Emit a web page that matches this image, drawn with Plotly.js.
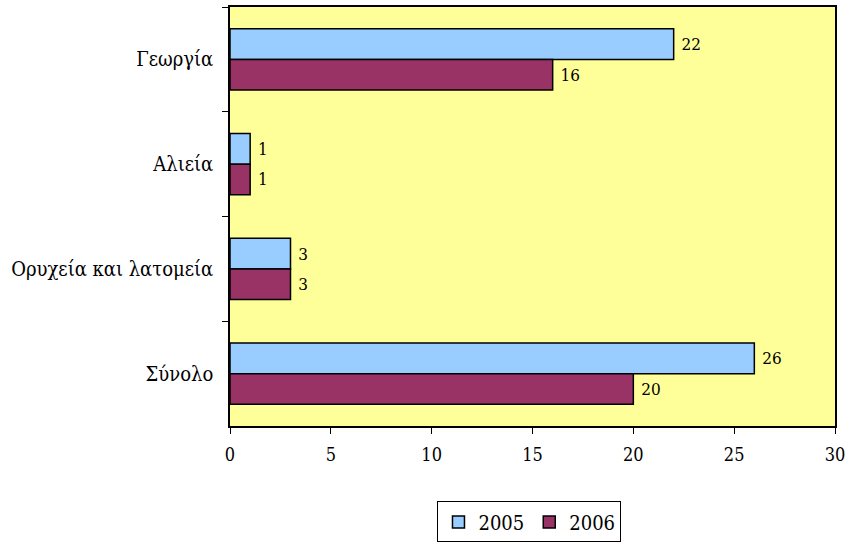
<!DOCTYPE html>
<html><head><meta charset="utf-8">
<script src="https://cdn.plot.ly/plotly-3.0.1.min.js"></script>
<style>body{margin:0;background:#fff}#chart{width:850px;height:550px}</style>
</head><body><div id="chart"></div>
<script>
const categories = ['Γεωργία', 'Αλιεία', 'Ορυχεία και λατομεία', 'Σύνολο'];
const values2005 = [22, 1, 3, 26];
const values2006 = [16, 1, 3, 20];
const seriesNames = ['2005', '2006'];

const font = "'DejaVu Serif Condensed', 'DejaVu Serif', serif";
function trace(vals, name, color) {
  return {
    type: 'bar', orientation: 'h', x: vals, y: categories, name: name,
    marker: {color: color, line: {color: '#000', width: 1.5}},
    texttemplate: '\u00a0%{x}', textposition: 'outside', cliponaxis: false,
    textfont: {family: font, size: 17, color: '#000'}
  };
}
const data = [trace(values2005, seriesNames[0], '#99CCFF'), trace(values2006, seriesNames[1], '#993366')];
const layout = {
  width: 850, height: 550,
  margin: {l: 230, r: 15, t: 7, b: 120},
  paper_bgcolor: '#fff', plot_bgcolor: '#FFFF99',
  barmode: 'group', bargap: 0.415, bargroupgap: 0,
  font: {family: font, size: 18, color: '#000'},
  xaxis: {range: [0, 30], dtick: 5, ticks: 'outside', ticklen: 6, tickcolor: '#000',
          showgrid: false, zeroline: false, showline: true, linecolor: '#000', linewidth: 1.5, mirror: true,
          tickfont: {family: font, size: 18, color: '#000'}, ticklabelstandoff: 6},
  yaxis: {type: 'category', autorange: 'reversed', tickson: 'boundaries', ticks: 'outside', ticklen: 6,
          tickcolor: '#000', showgrid: false, showline: true, linecolor: '#000', linewidth: 1.5, mirror: true,
          tickfont: {family: font, size: 20, color: '#000'}, ticklabelstandoff: 11},
  showlegend: true,
  legend: {orientation: 'h', x: 0.495, xanchor: 'center', y: -0.18, yanchor: 'top',
           bordercolor: '#000', borderwidth: 1, bgcolor: '#fff', itemwidth: 30,
           font: {family: font, size: 20, color: '#000'}, traceorder: 'normal'}
};
Plotly.newPlot('chart', data, layout, {displayModeBar: false});
</script></body></html>
